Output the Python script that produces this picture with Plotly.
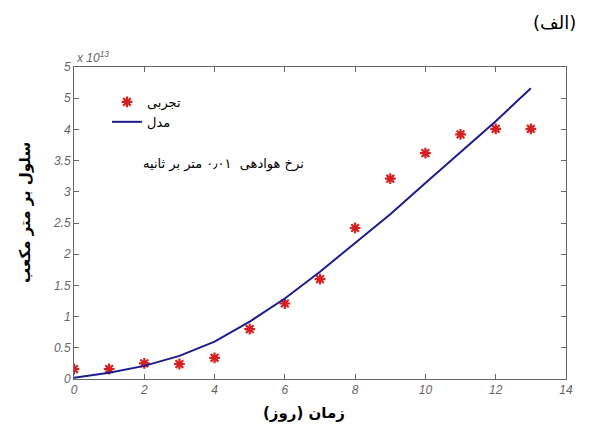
import plotly.graph_objects as go

# Data
days = [0, 1, 2, 3, 4, 5, 6, 7, 8, 9, 10, 11, 12, 13]
experimental = [0.16, 0.16, 0.25, 0.24, 0.34, 0.80, 1.21, 1.60, 2.42, 3.21, 3.62, 3.92, 4.01, 4.01]
model = [0.02, 0.10, 0.21, 0.37, 0.60, 0.92, 1.29, 1.72, 2.18, 2.64, 3.14, 3.64, 4.13, 4.66]

x_ticks = [0, 2, 4, 6, 8, 10, 12, 14]
y_ticks = [0, 0.5, 1, 1.5, 2, 2.5, 3, 3.5, 4, 4.5, 5]
y_ticktext = ["0", "0.5", "1", "1.5", "2", "2.5", "3", "3.5", "4", "5", "5"]

legend_exp = "تجربی"
legend_model = "مدل"
rate_label = "نرخ هوادهی  ۰٫۰۱ متر بر ثانیه"
x_title = "زمان (روز)"
y_title = "سلول بر متر مکعب"
panel_label = "(الف)"

fig = go.Figure()
fig.add_trace(go.Scatter(
    x=days, y=experimental, mode="markers", name=legend_exp,
    marker=dict(symbol="asterisk-open", size=9, color="#d42020",
                line=dict(width=2.2, color="#d42020")),
))
fig.add_trace(go.Scatter(
    x=days, y=model, mode="lines", name=legend_model,
    line=dict(color="#1c1c8a", width=2),
))

tickfont = dict(family="Liberation Sans", size=12, color="#666666", style="italic")
fig.update_layout(
    width=592, height=431,
    margin=dict(l=66, r=34, t=59, b=60),
    paper_bgcolor="white", plot_bgcolor="white",
    showlegend=True,
    legend=dict(x=0.067, y=0.936, xanchor="left", yanchor="top",
                bgcolor="rgba(0,0,0,0)", font=dict(family="DejaVu Sans", size=13, color="black"),
                tracegroupgap=0, itemwidth=30),
    xaxis=dict(range=[0, 14], tickvals=x_ticks, ticks="inside", ticklen=5, mirror="ticks",
               showline=True, linecolor="#666666", linewidth=1, showgrid=False, zeroline=False,
               tickfont=tickfont, tickcolor="#666666"),
    yaxis=dict(range=[0, 5], tickvals=y_ticks, ticktext=y_ticktext, ticks="inside", ticklen=5, mirror="ticks",
               showline=True, linecolor="#666666", linewidth=1, showgrid=False, zeroline=False,
               tickfont=tickfont, tickcolor="#666666"),
)

# axis titles
fig.add_annotation(x=0.467, y=-0.109, xref="paper", yref="paper", text="<b>" + x_title + "</b>",
                   showarrow=False, xanchor="center", yanchor="middle",
                   font=dict(family="DejaVu Sans", size=15, color="black"))
fig.add_annotation(x=-0.1, y=0.535, xref="paper", yref="paper", text="<b>" + y_title + "</b>",
                   showarrow=False, textangle=-90, xanchor="center", yanchor="middle",
                   font=dict(family="DejaVu Sans", size=15, color="black"))

fig.add_annotation(x=0.136, y=0.69, xref="paper", yref="paper", text=rate_label, showarrow=False,
                   xanchor="left", yanchor="middle",
                   font=dict(family="DejaVu Sans", size=13, color="black"))
fig.add_annotation(x=0.0, y=1.032, xref="paper", yref="paper", xanchor="left", yanchor="middle",
                   text="<i>x 10<sup>13</sup></i>", showarrow=False,
                   font=dict(family="Liberation Sans", size=12, color="#666666"))
fig.add_annotation(x=0.976, y=1.144, xref="paper", yref="paper", xanchor="center", yanchor="middle",
                   text=panel_label, showarrow=False,
                   font=dict(family="DejaVu Sans", size=18, color="black"))

fig.write_html("out.html")
